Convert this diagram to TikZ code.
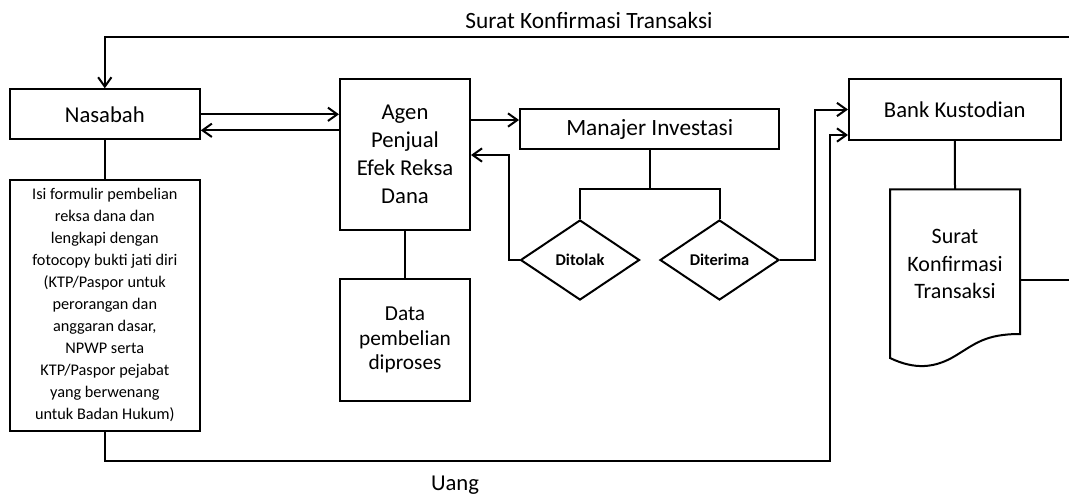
\documentclass[tikz,border=0pt]{standalone}
\usepackage{fontspec}
\setmainfont{Carlito}
\usetikzlibrary{shapes.geometric,arrows.meta}
\begin{document}
\begin{tikzpicture}[x=0.75pt,y=-0.75pt,
  line width=1.5pt,
  box/.style={draw=black,line width=1.5pt,rectangle,inner sep=2pt,align=center,
    font=\fontsize{17}{21}\selectfont},
  dia/.style={draw=black,line width=1.5pt,diamond,inner sep=0pt,
    minimum width=89.25pt,minimum height=60pt,font=\bfseries\fontsize{12.3}{14}\selectfont},
  arr/.style={-{Straight Barb[length=7pt,width=10pt,line width=1.5pt]}},
  lbl/.style={font=\fontsize{17}{20}\selectfont}]
\useasboundingbox (0,0) rectangle (1069,497);

% nodes
\node[box,minimum width=142.5pt,minimum height=37.5pt] (nas) at (104.8,114.3) {Nasabah};
\node[box,minimum width=142.5pt,minimum height=188pt,
  font=\fontsize{12.2}{16.5}\selectfont] (isi) at (104.8,305.3)
  {Isi formulir pembelian\\reksa dana dan\\lengkapi dengan\\fotocopy bukti jati diri\\(KTP/Paspor untuk\\perorangan dan\\anggaran dasar,\\NPWP serta\\KTP/Paspor pejabat\\yang berwenang\\untuk Badan Hukum)};
\node[box,minimum width=97.5pt,minimum height=113pt] (agen) at (405,154.7)
  {Agen\\Penjual\\Efek Reksa\\Dana};
\node[box,minimum width=97.5pt,minimum height=91.3pt,
  font=\fontsize{16}{18.4}\selectfont] (data) at (405,340)
  {Data\\pembelian\\diproses};
\node[box,minimum width=194.5pt,minimum height=30pt,
  font=\fontsize{17.5}{21}\selectfont] (man) at (649.7,129.3) {Manajer Investasi};
\node[dia] (tol) at (580,260) {Ditolak};
\node[dia] (ter) at (719.5,260) {Diterima};
\node[box,minimum width=158.7pt,minimum height=45.75pt] (bank) at (954.8,109.5) {Bank Kustodian};

% document shape
\coordinate (docTL) at (890,189.3);
\coordinate (docTR) at (1020,189.3);
\coordinate (docT) at (955,189.3);
\coordinate (docR) at (1020,280);
\draw[line width=1.5pt,line join=miter] (docTL) -- (docTR) -- (1020,334)
  .. controls (985,334) and (975,344) .. (955,356)
  .. controls (935,368) and (915,370) .. (890,358) -- cycle;
\node[align=center,font=\fontsize{16.5}{20.6}\selectfont] (doc) at (955,264)
  {Surat\\Konfirmasi\\Transaksi};

% labels
\node[font=\fontsize{17.5}{20}\selectfont] (lsurat) at (589,20) {Surat Konfirmasi Transaksi};
\node[lbl] (luang) at (455,485) {Uang};

% coordinates for connectors
\coordinate (topR) at (1069,36.7);
\coordinate (docEdge) at (1069,280);
\coordinate (c120) at (0,120);
\coordinate (split) at (649.7,189.3);
\coordinate (tolc) at (509,155);
\coordinate (terc) at (815,109.5);
\coordinate (uang) at (830,461);
\coordinate (ubank) at (830,135);

% connectors
\draw[arr] (topR) -| (nas.north);
\draw[arr] (nas.east) -- (nas.east -| agen.west);
\draw[arr] ([yshift=-12pt]nas.east -| agen.west) -- ([yshift=-12pt]nas.east);
\draw (nas.south) -- (isi.north);
\draw (agen.south) -- (data.north);
\draw[arr] (agen.east |- c120) -- (man.west |- c120);
\draw (man.south) -- (split);
\draw (tol.north) |- (split) -| (ter.north);
\draw[arr] (tol.west) -| (tolc) -- (tolc -| agen.east);
\draw[arr] (ter.east) -| (terc) -- (terc -| bank.west);
\draw[arr] (isi.south) |- (uang) -- (ubank) -- (ubank -| bank.west);
\draw (bank.south) -- (docT);
\draw (docR) -- (docEdge);
\end{tikzpicture}
\end{document}
